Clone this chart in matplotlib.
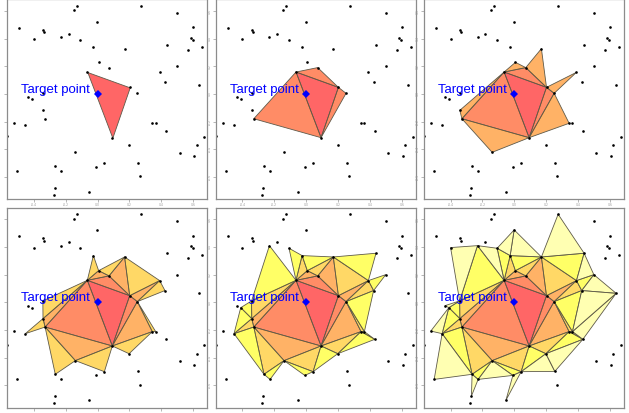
import numpy as np
import matplotlib
matplotlib.use("Agg")
import matplotlib.pyplot as plt
import matplotlib.tri as mtri
from matplotlib.collections import PolyCollection

# Scattered sites
px = [-0.127, -0.145, 0.275, 0.499, -0.490, -0.342, -0.334, -0.001, 0.601, -0.400,
      -0.231, -0.181, -0.108, 0.584, 0.597, 0.438, 0.656, 0.568, -0.026, 0.170,
      0.007, 0.072, 0.499, 0.390, -0.064, 0.202, 0.423, 0.639, 0.250, -0.434,
      -0.411, -0.342, -0.329, -0.524, -0.453, 0.344, 0.365, 0.093, 0.430, -0.566,
      0.668, 0.198, 0.622, -0.139, 0.515, 0.607, 0.043, 0.254, -0.265, -0.009,
      -0.227, -0.503, 0.269, -0.269, -0.053, -0.275, -0.343]
py = [0.637, 0.606, 0.637, 0.589, 0.478, 0.463, 0.447, 0.524, 0.483, 0.396,
      0.410, 0.434, 0.391, 0.406, 0.391, 0.355, 0.343, 0.319, 0.338, 0.328,
      0.229, 0.191, 0.200, 0.157, 0.159, 0.048, 0.085, 0.065, 0.005, -0.024,
      -0.039, -0.118, -0.179, -0.208, -0.227, -0.212, -0.212, -0.316, -0.268, -0.307,
      -0.311, -0.372, -0.372, -0.422, -0.427, -0.451, -0.502, -0.500, -0.521, -0.529,
      -0.558, -0.558, -0.596, -0.678, -0.710, -0.729, 0.010]

target_x, target_y = 0.0, 0.0
target_label = "Target point"

# heat palette, one colour per neighbourhood order
order_colors = ["#FF0000", "#FF4000", "#FF8000", "#FFBF00", "#FFFF00", "#FFFF80"]
fill_alpha = 0.6

x_ticks = [-0.4, -0.2, 0.0, 0.2, 0.4, 0.6]
y_ticks = [-0.6, -0.4, -0.2, 0.0, 0.2, 0.4, 0.6]

# Delaunay triangulation and edge-neighbour orders around the target
tri = mtri.Triangulation(px, py)
finder = tri.get_trifinder()
start = int(finder(target_x, target_y))
order = np.full(len(tri.triangles), -1)
order[start] = 0
frontier = [start]
for k in range(1, len(order_colors)):
    nxt = []
    for t in frontier:
        for nb in tri.neighbors[t]:
            if nb >= 0 and order[nb] < 0:
                order[nb] = k
                nxt.append(nb)
    frontier = nxt

W, H = 629, 413
fig = plt.figure(figsize=(W / 100, H / 100), dpi=100)
fig.patch.set_facecolor("white")

col_x0 = [7.0, 215.7, 423.8]
row_y0 = [-0.8, 207.5]
pw, ph = 200.0, 200.1

xs = np.array(px)
ys = np.array(py)

for panel in range(6):
    r, c = divmod(panel, 3)
    ax = fig.add_axes([col_x0[c] / W, 1 - (row_y0[r] + ph) / H, pw / W, ph / H])
    ax.set_xlim(-0.568, 0.687)
    ax.set_ylim(-0.762, 0.686)

    verts, cols = [], []
    for k in range(panel + 1):
        for t in np.where(order == k)[0]:
            idx = tri.triangles[t]
            verts.append(np.column_stack([xs[idx], ys[idx]]))
            cols.append(matplotlib.colors.to_rgba(order_colors[k], fill_alpha))
    pc = PolyCollection(verts, facecolors=cols, edgecolors="#5e5a4a",
                        linewidths=0.6)
    ax.add_collection(pc)

    ax.plot(xs, ys, "o", color="black", markersize=1.9, markeredgewidth=0)
    ax.plot([target_x], [target_y], "D", color="#0000FF", markersize=3.6,
            markeredgewidth=0)
    ax.annotate(target_label, (target_x, target_y), xytext=(-5.2, 0.7),
                textcoords="offset points", ha="right", va="baseline",
                color="#0000FF", fontsize=9.5, family="Liberation Sans")

    ax.set_xticks(x_ticks)
    ax.set_yticks(y_ticks)
    if r == 0:
        ax.set_xticklabels([f"{v:.1f}" for v in x_ticks])
    else:
        ax.set_xticklabels([])
    if c > 0:
        ax.set_yticklabels([f"{v:.1f}" for v in y_ticks], rotation=90, va="center")
    else:
        ax.set_yticklabels([])
    ax.tick_params(length=2, width=0.5, colors="#9a9a9a", labelsize=2.2, pad=1)
    for s in ax.spines.values():
        s.set_color("#8c8c8c")
        s.set_linewidth(0.9)

fig.savefig("out.png", dpi=100, facecolor="white")
